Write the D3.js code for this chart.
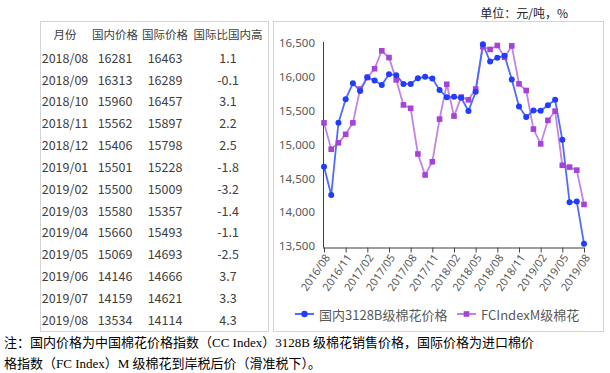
<!DOCTYPE html>
<html>
<head>
<meta charset="utf-8">
<script src="https://cdn.jsdelivr.net/npm/d3@7"></script>
<style>
  body { margin: 0; background: #fff; }
  svg { display: block; }
  text { font-family: "Noto Sans CJK SC", "Noto Sans", sans-serif; }
</style>
</head>
<body>
<svg id="chart" width="610" height="373"></svg>
<script>
// table data
const tableHeader = ['月份', '国内价格', '国际价格', '国际比国内高']
const tableMonths = ['2018/08', '2018/09', '2018/10', '2018/11', '2018/12', '2019/01', '2019/02',
  '2019/03', '2019/04', '2019/05', '2019/06', '2019/07', '2019/08']
const tableDomestic = [16281, 16313, 15960, 15562, 15406, 15501, 15500, 15580, 15660, 15069, 14146, 14159, 13534]
const tableIntl = [16463, 16289, 16457, 15897, 15798, 15228, 15009, 15357, 15493, 14693, 14666, 14621, 14114]
const tableDiff = ['1.1', '-0.1', '3.1', '2.2', '2.5', '-1.8', '-3.2', '-1.4', '-1.1', '-2.5', '3.7', '3.3', '4.3']

// line chart data (monthly)
const months = ['2016/08', '2016/09', '2016/10', '2016/11', '2016/12', '2017/01', '2017/02', '2017/03',
  '2017/04', '2017/05', '2017/06', '2017/07', '2017/08', '2017/09', '2017/10', '2017/11', '2017/12',
  '2018/01', '2018/02', '2018/03', '2018/04', '2018/05', '2018/06', '2018/07', '2018/08', '2018/09',
  '2018/10', '2018/11', '2018/12', '2019/01', '2019/02', '2019/03', '2019/04', '2019/05', '2019/06',
  '2019/07', '2019/08']
const domestic = [14670, 14255, 15320, 15670, 15905, 15790, 15995, 15945, 15880, 16040, 16025, 15895,
  15895, 15980, 16000, 15975, 15805, 15700, 15705, 15690, 15495, 15780, 16480, 16225,
  16281, 16313, 15960, 15562, 15406, 15501, 15500, 15580, 15660, 15069, 14146, 14159, 13534]
const intl = [15320, 14930, 15025, 15150, 15320, 15820, 15990, 16120, 16385, 16285, 15955, 15585,
  15535, 14860, 14550, 14745, 15375, 15890, 15420, 15700, 15660, 15820, 16445, 16405,
  16463, 16289, 16457, 15897, 15798, 15228, 15009, 15357, 15493, 14693, 14666, 14621, 14114]
const xTicks = ['2016/08', '2016/11', '2017/02', '2017/05', '2017/08', '2017/11', '2018/02',
  '2018/05', '2018/08', '2018/11', '2019/02', '2019/05', '2019/08']
const yTicks = [13500, 14000, 14500, 15000, 15500, 16000, 16500]
const seriesNames = ['国内3128B级棉花价格', 'FCIndexM级棉花']

const BLUE = '#1f3cff'
const BLUE_LINE = '#4f6bff'
const PURPLE = '#a642d6'
const PURPLE_LINE = '#c382e6'
const TEXT = '#404040'
const AXIS_TEXT = '#595959'

const svg = d3.select('#chart')

// boxes
svg.append('rect')
  .attr('x', 40.5).attr('y', 21.5).attr('width', 228).attr('height', 310)
  .attr('fill', 'none').attr('stroke', '#d4d4d4')
svg.append('rect')
  .attr('x', 273.5).attr('y', 21.5).attr('width', 330).attr('height', 310)
  .attr('fill', 'none').attr('stroke', '#d4d4d4')

// table
const colX = d3.scalePoint().domain(d3.range(4)).range([65, 228])
const colPos = [65, 115, 165, 228]
const rowY = d3.scaleLinear().domain([0, 12]).range([57.3, 319.3])

svg.append('g').selectAll('text')
  .data(tableHeader)
  .enter()
  .append('text')
  .attr('x', (d, i) => colPos[i])
  .attr('y', 34)
  .attr('text-anchor', 'middle')
  .attr('dominant-baseline', 'central')
  .style('font-size', '11.5px')
  .style('fill', TEXT)
  .text(d => d)

const rows = tableMonths.map((m, i) => [m, tableDomestic[i], tableIntl[i], tableDiff[i]])
svg.append('g').selectAll('g')
  .data(rows)
  .enter()
  .append('g')
  .attr('transform', (d, i) => `translate(0, ${rowY(i)})`)
  .selectAll('text')
  .data(d => d)
  .enter()
  .append('text')
  .attr('x', (d, i) => colPos[i])
  .attr('text-anchor', 'middle')
  .attr('dominant-baseline', 'central')
  .style('font-size', '12.5px')
  .style('fill', TEXT)
  .text(d => d)

// unit label
svg.append('text')
  .attr('x', 568).attr('y', 12)
  .attr('text-anchor', 'end')
  .attr('dominant-baseline', 'central')
  .style('font-size', '12px')
  .style('fill', '#222')
  .text('单位：元/吨，%')

// line chart
const xScale = d3.scalePoint().domain(months).range([324, 584])
const yScale = d3.scaleLinear().domain([13500, 16500]).range([246, 43])

// y axis
const yAxis = svg.append('g')
  .attr('transform', 'translate(323, 0)')
  .call(d3.axisLeft(yScale).tickValues(yTicks).tickFormat(d3.format(',')).tickSize(0).tickPadding(8))
yAxis.select('.domain').attr('stroke', '#404040').attr('d', `M0.5,${yScale(16500) - 1}V${yScale(13500) + 1.5}`)
yAxis.selectAll('text').style('font-size', '11.5px').style('fill', AXIS_TEXT)
  .style('font-family', '"Noto Sans", sans-serif')

// x axis
const xAxis = svg.append('g')
  .attr('transform', `translate(0, ${yScale(13500) + 1.5})`)
  .call(d3.axisBottom(xScale).tickValues(xTicks).tickSize(5).tickSizeOuter(0))
xAxis.select('.domain').attr('stroke', '#404040').attr('d', `M323,0.5H${xScale('2019/08')}`)
xAxis.selectAll('.tick line').attr('stroke', '#404040')
xAxis.selectAll('text')
  .style('font-size', '11px')
  .style('fill', AXIS_TEXT)
  .style('font-family', '"Noto Sans", sans-serif')
  .attr('text-anchor', 'end')
  .attr('dy', '0.35em')
  .attr('transform', 'translate(3, 8) rotate(-55)')
  .attr('y', 0)
  .attr('x', 0)

// lines
const line = d3.line()
  .x((d, i) => xScale(months[i]))
  .y(d => yScale(d))

svg.append('path')
  .datum(intl)
  .attr('d', line)
  .attr('fill', 'none')
  .attr('stroke', PURPLE_LINE)
  .attr('stroke-width', 1.8)

svg.append('path')
  .datum(domestic)
  .attr('d', line)
  .attr('fill', 'none')
  .attr('stroke', BLUE_LINE)
  .attr('stroke-width', 1.8)

svg.append('g').selectAll('rect')
  .data(intl)
  .enter()
  .append('rect')
  .attr('x', (d, i) => xScale(months[i]) - 2.8)
  .attr('y', d => yScale(d) - 2.8)
  .attr('width', 5.6)
  .attr('height', 5.6)
  .attr('fill', PURPLE)

svg.append('g').selectAll('circle')
  .data(domestic)
  .enter()
  .append('circle')
  .attr('cx', (d, i) => xScale(months[i]))
  .attr('cy', d => yScale(d))
  .attr('r', 3)
  .attr('fill', BLUE)

// legend
const legend = svg.append('g').attr('transform', 'translate(0, 314)')
const legendItems = [
  { name: seriesNames[0], x: 295, color: BLUE, lineColor: BLUE_LINE, shape: 'circle' },
  { name: seriesNames[1], x: 457, color: PURPLE, lineColor: PURPLE_LINE, shape: 'square' }
]
legendItems.forEach(item => {
  const g = legend.append('g').attr('transform', `translate(${item.x}, 0)`)
  g.append('line').attr('x1', 0).attr('x2', 19).attr('y1', 0).attr('y2', 0)
    .attr('stroke', item.lineColor).attr('stroke-width', 2)
  if (item.shape === 'circle') {
    g.append('circle').attr('cx', 9.5).attr('cy', 0).attr('r', 3.2).attr('fill', item.color)
  } else {
    g.append('rect').attr('x', 6.7).attr('y', -2.8).attr('width', 5.6).attr('height', 5.6).attr('fill', item.color)
  }
  g.append('text')
    .attr('x', 24).attr('y', 0)
    .attr('dominant-baseline', 'central')
    .style('font-size', '13px')
    .style('fill', AXIS_TEXT)
    .text(item.name)
})

// footnote
const notes = [
  '注：国内价格为中国棉花价格指数（CC Index）3128B 级棉花销售价格，国际价格为进口棉价',
  '格指数（FC Index）M 级棉花到岸税后价（滑准税下）。'
]
svg.append('g').selectAll('text')
  .data(notes)
  .enter()
  .append('text')
  .attr('x', 4)
  .attr('y', (d, i) => 342 + i * 21)
  .attr('dominant-baseline', 'central')
  .style('font-family', '"Liberation Serif", "Noto Sans CJK SC", serif')
  .style('font-size', '13px')
  .style('fill', '#000')
  .text(d => d)
</script>
</body>
</html>
